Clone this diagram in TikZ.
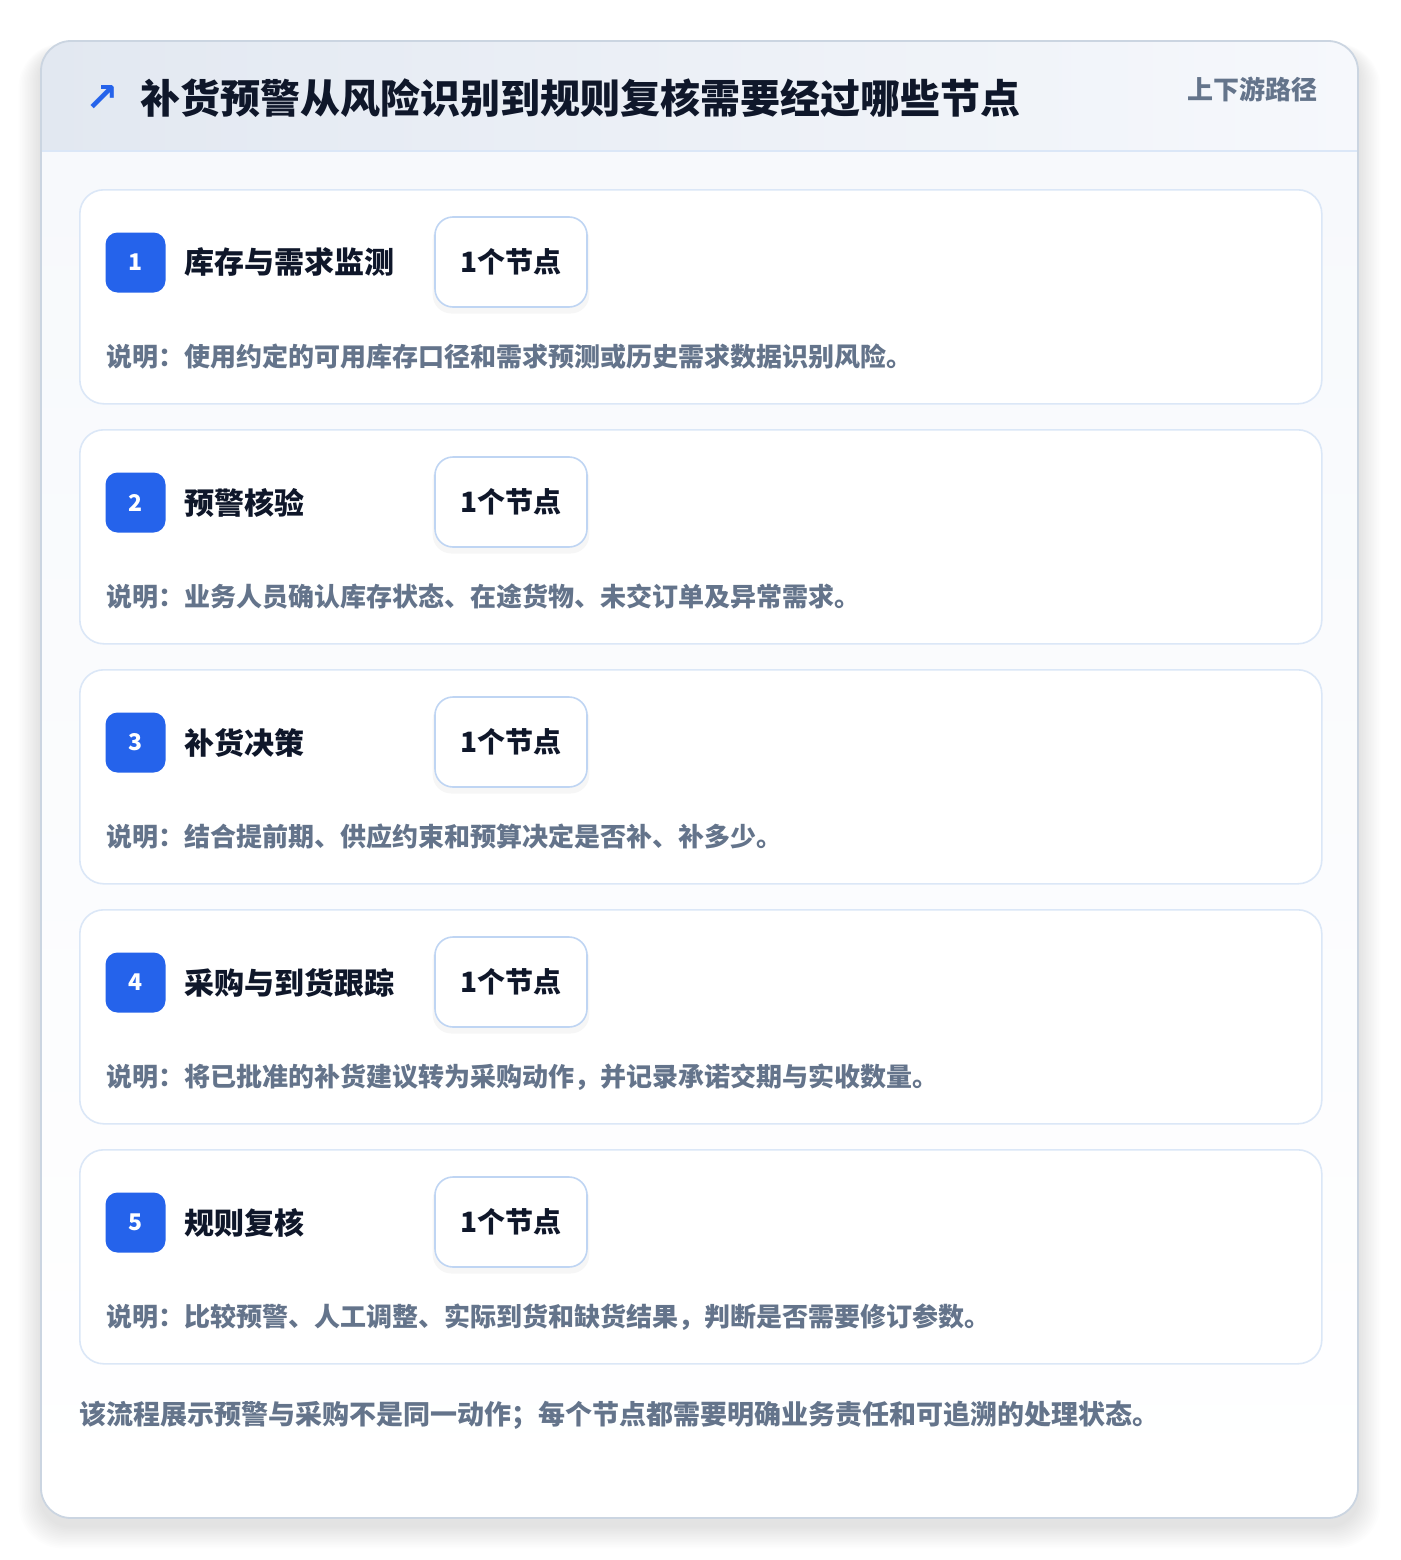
\documentclass[tikz,border=0pt]{standalone}
\usepackage{fontspec}
\setmainfont{Noto Sans CJK SC}
\newfontfamily\symfont{DejaVu Sans}
\usetikzlibrary{positioning,shadows}

\definecolor{accent}{HTML}{2563EB}
\definecolor{ink}{HTML}{0F172A}
\definecolor{muted}{HTML}{64748B}
\definecolor{frame}{HTML}{CBD5E1}
\definecolor{cardline}{HTML}{DBE7F7}
\definecolor{pillline}{HTML}{BFD5F3}
\definecolor{headA}{HTML}{E2E8F1}
\definecolor{headB}{HTML}{F6F8FC}
\definecolor{bodyA}{HTML}{F7F9FC}

\newcommand{\fsz}[1]{\fontsize{#1}{#1}\selectfont}

\begin{document}
\begin{tikzpicture}[x=1pt, y=-1pt,
                card/.style={rectangle, draw=cardline, line width=1.6pt, fill=white, rounded corners=24pt, minimum width=1242pt, minimum height=214pt, anchor=north west, inner sep=0pt},
                badge/.style={rectangle, fill=accent, rounded corners=12pt, minimum size=60pt, inner sep=0pt, text=white, font=\bfseries\fsz{23}},
                steptitle/.style={anchor=west, inner sep=0pt, text=ink, font=\bfseries\fsz{30}},
                pill/.style={rectangle, draw=pillline, line width=1.6pt, fill=white, rounded corners=18pt, minimum width=152pt, minimum height=90pt, inner sep=0pt, text=ink, font=\bfseries\fsz{28}, drop shadow={shadow xshift=0pt, shadow yshift=-5pt, shadow scale=1.03, opacity=0.035, fill=black}},
                note/.style={anchor=west, inner sep=0pt, text=muted, font=\bfseries\fsz{26}}
            ]
            \useasboundingbox (0,0) rectangle (1400,1560);
            \fill[white] (0,0) rectangle (1400,1560);
            % soft shadow of the panel
            \foreach \i in {1,...,14}
                \fill[black, opacity=0.006, rounded corners=30pt+\i pt] (41-\i*1.6,41-\i*0.4+8) rectangle (1358+\i*1.6,1518+\i*1.6+8);
            % panel
            \begin{scope}
                \clip[rounded corners=30pt] (41,41) rectangle (1358,1518);
                \shade[top color=bodyA, bottom color=white] (41,151) rectangle (1358,1518);
                \shade[left color=headA, right color=headB] (41,41) rectangle (1358,151);
                \draw[cardline, line width=1.6pt] (41,151) -- (1358,151);
            \end{scope}
            \draw[frame, line width=1.8pt, rounded corners=30pt] (41,41) rectangle (1358,1518);

            % header
            \node (icon) [anchor=center, inner sep=0pt, text=accent, font=\symfont\bfseries\fsz{40}] at (102,99) {↗};
            \node (title) [anchor=west, inner sep=0pt, text=ink, font=\bfseries\fsz{40}] at (140,98) {补货预警从风险识别到规则复核需要经过哪些节点};
            \node (tag) [anchor=east, inner sep=0pt, text=muted, font=\bfseries\fsz{26}] at (1318,89) {上下游路径};

            % steps
            \foreach \n/\name/\desc in {
                1/库存与需求监测/说明：使用约定的可用库存口径和需求预测或历史需求数据识别风险。,
                2/预警核验/说明：业务人员确认库存状态、在途货物、未交订单及异常需求。,
                3/补货决策/说明：结合提前期、供应约束和预算决定是否补、补多少。,
                4/采购与到货跟踪/说明：将已批准的补货建议转为采购动作，并记录承诺交期与实收数量。,
                5/规则复核/说明：比较预警、人工调整、实际到货和缺货结果，判断是否需要修订参数。}
            {
                \pgfmathsetmacro{\top}{189+240*(\n-1)}
                \node (card\n) [card] at (79,\top) {};
                \node (badge\n) [badge] at (135.5,\top+73.5) {\n};
                \node (name\n) [steptitle, right=19pt of badge\n] {\name};
                \node (pill\n) [pill] at (511,\top+73) {1个节点};
                \node (note\n) [note] at (106,\top+168) {\desc};
            }

            % closing remark
            \node (remark) [anchor=west, inner sep=0pt, text=muted, font=\bfseries\fsz{27}] at (79,1415) {该流程展示预警与采购不是同一动作；每个节点都需要明确业务责任和可追溯的处理状态。};
\end{tikzpicture}
\end{document}
